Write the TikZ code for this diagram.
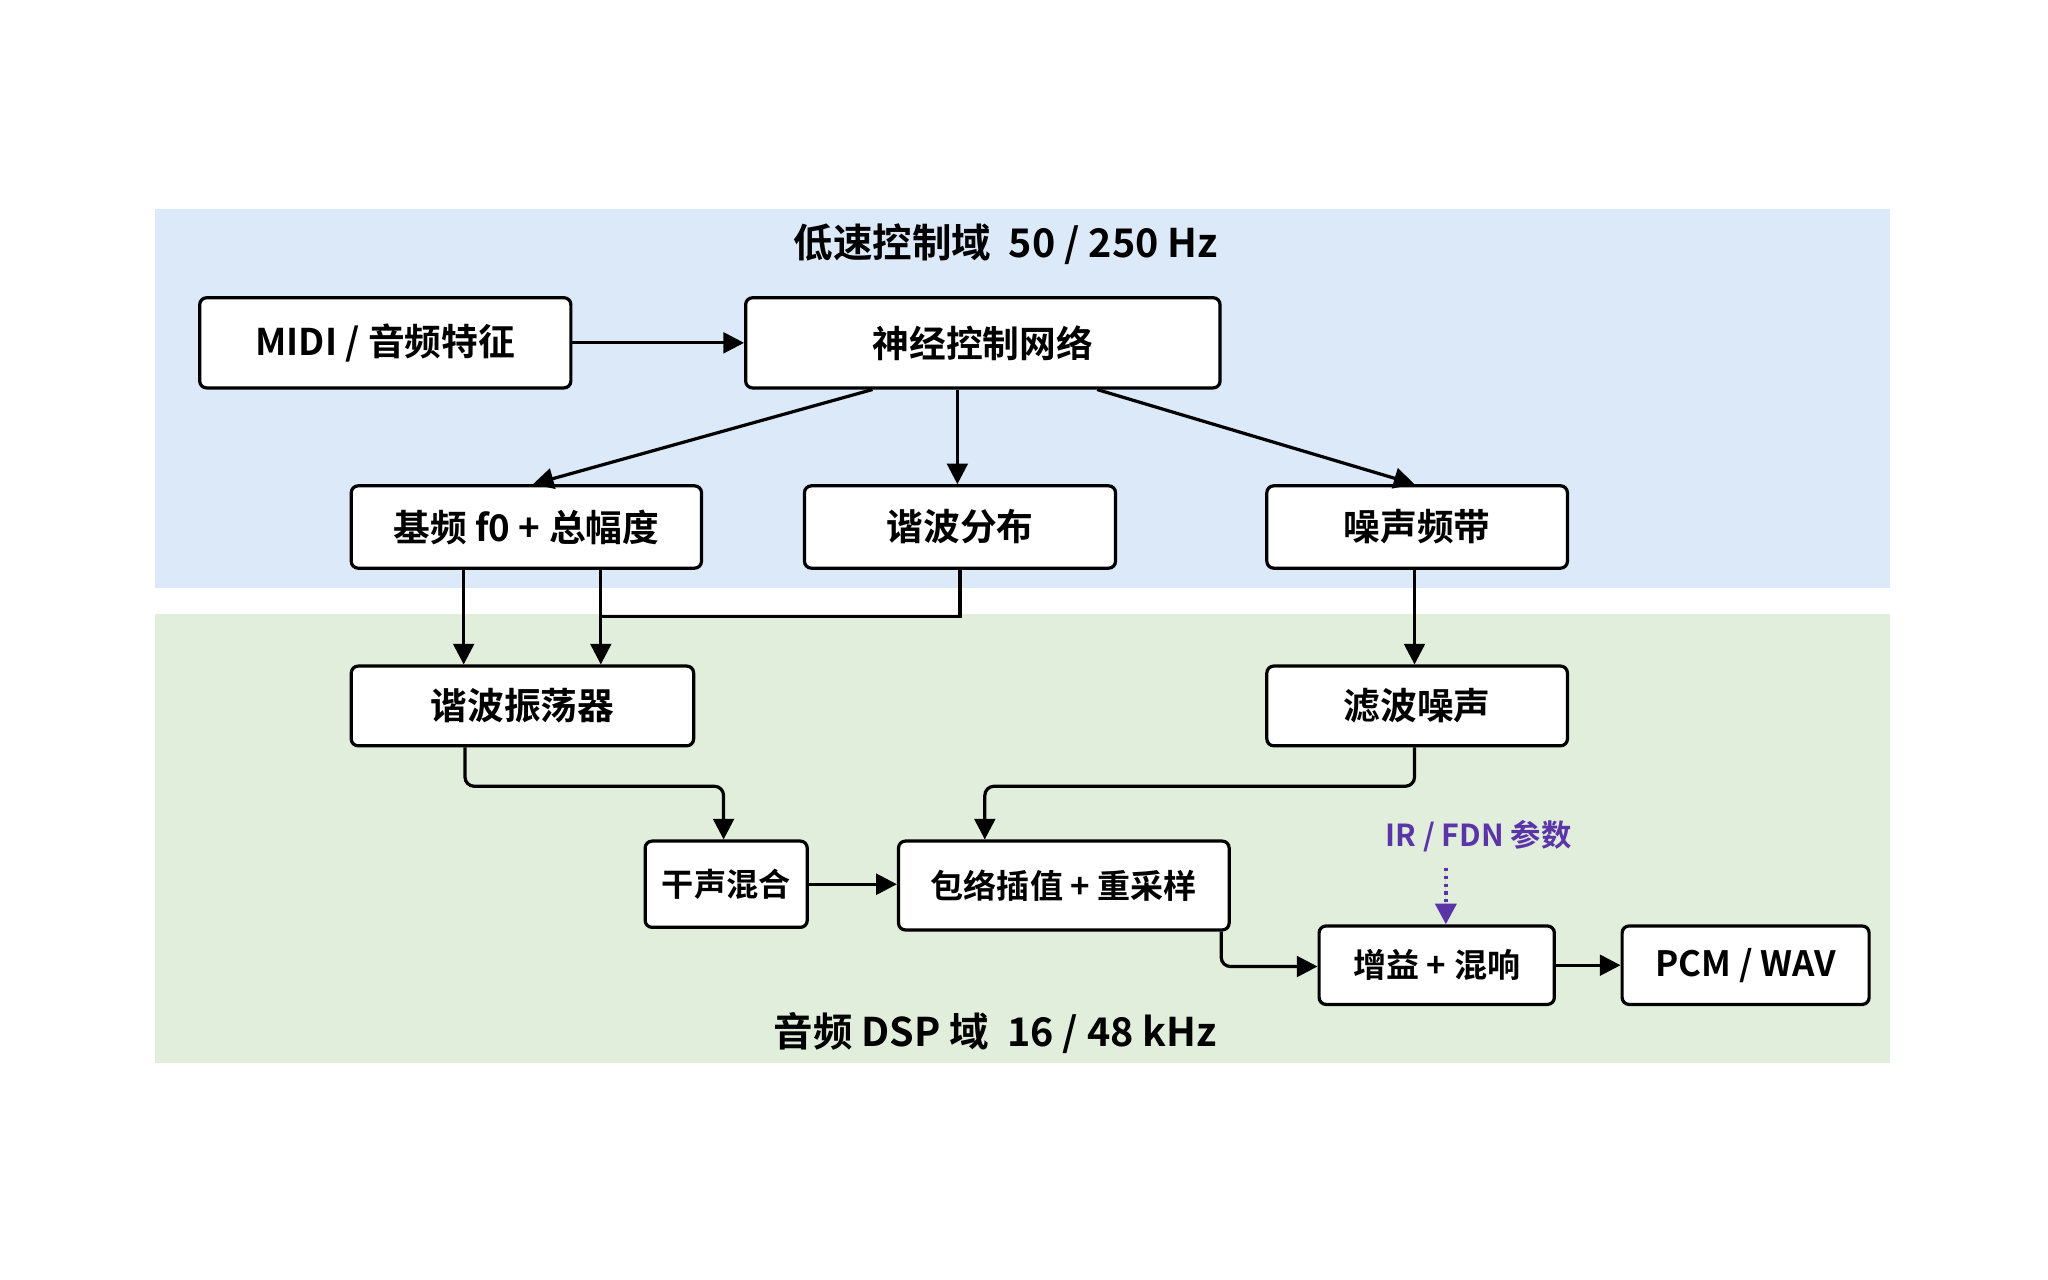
\documentclass[tikz,border=0pt]{standalone}
\usepackage{fontspec}
\setmainfont{Noto Sans CJK SC}[BoldFont={* Bold}]
\usetikzlibrary{arrows.meta}
\begin{document}
\begin{tikzpicture}[x=0.01cm,y=-0.01cm,
 box/.style={draw=black,line width=0.7pt,rounded corners=1.5pt,fill=white,font=\fontsize{8}{9}\selectfont\bfseries,inner sep=0pt},
 ar/.style={line width=0.7pt,-{Triangle[length=4.5pt,width=4.5pt]}},
 dom/.style={font=\fontsize{8.6}{10}\selectfont\bfseries}]
\useasboundingbox (0,0) rectangle (1568,980);
\fill[white] (0,0) rectangle (1568,980);
\fill[fill={rgb,255:red,220;green,233;blue,248}] (119,160) rectangle (1447,450);
\fill[fill={rgb,255:red,225;green,238;blue,219}] (119,470) rectangle (1447,814);
\node[dom] (t1) at (770,187) {低速控制域\ \ 50 / 250 Hz};
\node[dom] (t2) at (762,791) {音频 DSP 域\ \ 16 / 48 kHz};
\node[box,minimum width=2.84cm,minimum height=0.69cm] (midi) at (295,262.5) {MIDI / 音频特征};
\node[box,minimum width=3.63cm,minimum height=0.69cm] (nn) at (752.5,262.5) {神经控制网络};
\node[box,minimum width=2.68cm,minimum height=0.63cm] (f0) at (403,403.5) {基频 f0 + 总幅度};
\node[box,minimum width=2.38cm,minimum height=0.63cm] (hd) at (735,403.5) {谐波分布};
\node[box,minimum width=2.30cm,minimum height=0.63cm] (nb) at (1085,403.5) {噪声频带};
\node[box,minimum width=2.62cm,minimum height=0.61cm] (osc) at (400,540.5) {谐波振荡器};
\node[box,minimum width=2.30cm,minimum height=0.61cm] (fn) at (1085,540.5) {滤波噪声};
\node[box,minimum width=1.24cm,minimum height=0.66cm,font=\fontsize{7}{8}\selectfont\bfseries] (dry) at (556,677) {干声混合};
\node[box,minimum width=2.53cm,minimum height=0.68cm,font=\fontsize{7.2}{8}\selectfont\bfseries] (env) at (814.5,678) {包络插值 + 重采样};
\node[box,minimum width=1.80cm,minimum height=0.60cm,font=\fontsize{7.2}{8}\selectfont\bfseries] (gain) at (1100,739) {增益 + 混响};
\node[box,minimum width=1.89cm,minimum height=0.60cm,font=\fontsize{7.6}{8}\selectfont\bfseries] (pcm) at (1336.5,739) {PCM / WAV};
\node[font=\fontsize{6.6}{8}\selectfont\bfseries,text={rgb,255:red,91;green,53;blue,168}] (ir) at (1132,640) {IR / FDN 参数};
\draw[ar] (midi) -- (nn);
\draw[ar] (nn.south -| 668,0) -- (f0.north -| 408,0);
\draw[ar] (nn.south -| 733,0) -- (hd.north -| 733,0);
\draw[ar] (nn.south -| 840,0) -- (nb.north -| 1083,0);
\draw[ar] (f0.south -| 355,0) -- (osc.north -| 355,0);
\draw[ar] (f0.south -| 460,0) -- (osc.north -| 460,0);
\draw[line width=0.7pt] (hd.south -| 735,0) -- (735,472) -- (460,472);
\draw[ar] (nb.south -| 1083,0) -- (fn.north -| 1083,0);
\draw[ar,rounded corners=2pt] (osc.south -| 356,0) -- (356,602) -- (554,602) -- (dry.north -| 554,0);
\draw[ar,rounded corners=2pt] (fn.south -| 1083,0) -- (1083,602) -- (754,602) -- (env.north -| 754,0);
\draw[ar] (dry) -- (env.west |- dry);
\draw[ar,rounded corners=2pt] (env.south -| 935,0) -- (935,740) -- (gain.west |- 0,740);
\draw[ar] (gain) -- (pcm);
\draw[ar,densely dotted,draw={rgb,255:red,91;green,53;blue,168},fill={rgb,255:red,91;green,53;blue,168},line width=1pt] (ir.south -| 1107,0) -- (gain.north -| 1107,0);
\end{tikzpicture}
\end{document}
